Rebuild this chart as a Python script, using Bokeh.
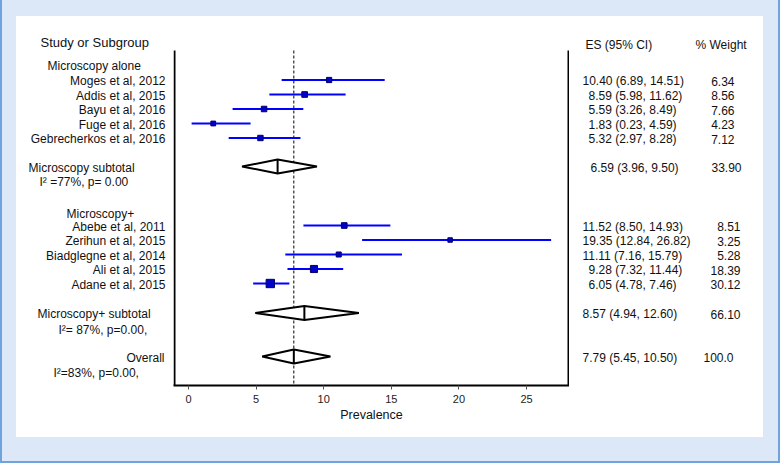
import math
from bokeh.plotting import figure
from bokeh.models import Range1d, FixedTicker, ColumnDataSource, Row, Column, Spacer
from bokeh.core.properties import value
from bokeh.embed import file_html
from bokeh.resources import INLINE

# ---------------- data ----------------
header_left = "Study or Subgroup"
header_es = "ES (95% CI)"
header_w = "% Weight"
group_names = ["Microscopy alone", "Microscopy+"]

studies_1 = ["Moges et al, 2012", "Addis et al, 2015", "Bayu et al, 2016",
             "Fuge et al, 2016", "Gebrecherkos et al, 2016"]
es_1 = [10.40, 8.59, 5.59, 1.83, 5.32]
lo_1 = [6.89, 5.98, 3.26, 0.23, 2.97]
hi_1 = [14.51, 11.62, 8.49, 4.59, 8.28]
w_1 = [6.34, 8.56, 7.66, 4.23, 7.12]

studies_2 = ["Abebe et al, 2011", "Zerihun et al, 2015", "Biadglegne et al, 2014",
             "Ali et al, 2015", "Adane et al, 2015"]
es_2 = [11.52, 19.35, 11.11, 9.28, 6.05]
lo_2 = [8.50, 12.84, 7.16, 7.32, 4.78]
hi_2 = [14.93, 26.82, 15.79, 11.44, 7.46]
w_2 = [8.51, 3.25, 5.28, 18.39, 30.12]

subtotal_names = ["Microscopy subtotal", "Microscopy+ subtotal"]
sub_es = [6.59, 8.57]
sub_lo = [3.96, 4.94]
sub_hi = [9.50, 12.60]
sub_w = [33.90, 66.10]
het_texts = ["I\u00b2 =77%, p= 0.00", "I\u00b2= 87%, p=0.00,"]

overall_name = "Overall"
overall_es = 7.79
overall_lo = 5.45
overall_hi = 10.50
overall_w = "100.0"
overall_het = "I\u00b2=83%, p=0.00,"

x_ticks = [0, 5, 10, 15, 20, 25]
x_label = "Prevalence"

# ---------------- layout (page pixel positions) ----------------
FONT = value("Liberation Sans")
WHITE_L, WHITE_T, WHITE_R, WHITE_B = 16, 16, 763, 437
BOX_L, BOX_R, BOX_TOP, BOTTOM = 173, 569, 50, 385
TOTAL_W, TOTAL_H = 780, 463
EDGE_W = 2
FIG_H = WHITE_B - WHITE_T
MB = FIG_H - (BOTTOM - WHITE_T)
X0, X1 = -1.11, 28.18
PX = (X1 - X0) / (BOX_R - BOX_L)
row_y_1 = [79.5, 94, 108.5, 123, 137.5]
row_y_2 = [225, 239.5, 254, 268.5, 283]
sub_y = [166, 312.5]
overall_y = 356
het_y = [181, 329]
overall_het_y = 372
group_y = [64, 212]
DY = 1.0  # text offset
BG = "#dce8f7"
EDGE = "#6fa3dc"
TXT = "#111111"


def base_fig(x0, x1, xr):
    f = figure(width=x1 - x0, height=FIG_H, x_range=xr,
               y_range=Range1d(BOTTOM, WHITE_T), y_axis_type=None,
               min_border_left=0, min_border_right=0, min_border_top=0,
               min_border_bottom=MB, toolbar_location=None, output_backend="svg",
               outline_line_color=None, background_fill_color="white",
               border_fill_color="white")
    f.grid.visible = False
    return f


def fmt(e, l, h):
    return f"{e:.2f} ({l:.2f}, {h:.2f})"


# ---------------- left text panel ----------------
left = base_fig(WHITE_L, BOX_L, Range1d(WHITE_L, BOX_L))
left.xaxis.visible = False

lt_right = ColumnDataSource(dict(
    x=[165] * 10 + [164],
    y=[y + DY for y in row_y_1 + row_y_2] + [overall_y + DY],
    t=studies_1 + studies_2 + [overall_name]))
left.text(x="x", y="y", text="t", source=lt_right, text_font=FONT,
          text_font_size="12px", text_align="right", text_baseline="middle",
          text_color=TXT)

lt_left = ColumnDataSource(dict(
    x=[47, 66, 28, 37, 39, 58, 53],
    y=[g + DY for g in group_y] + [s + DY for s in sub_y] + list(het_y) + [overall_het_y],
    t=group_names + subtotal_names + het_texts + [overall_het]))
left.text(x="x", y="y", text="t", source=lt_left, text_font=FONT,
          text_font_size="12px", text_align="left", text_baseline="middle",
          text_color=TXT)
left.text(x=[40], y=[42], text=[header_left], text_font=FONT,
          text_font_size="13px", text_align="left", text_baseline="middle",
          text_color=TXT)

# ---------------- center forest panel ----------------
center = base_fig(BOX_L, BOX_R, Range1d(X0, X1))
xa = center.xaxis[0]
xa.ticker = FixedTicker(ticks=x_ticks)
xa.axis_line_width = 2
xa.axis_line_color = "black"
xa.major_tick_line_color = "#555555"
xa.major_tick_out = 4
xa.major_tick_in = 0
xa.minor_tick_line_color = None
xa.major_label_text_font = "Liberation Sans"
xa.major_label_text_font_size = "11px"
xa.major_label_text_color = "#222222"
xa.major_label_standoff = 5
xa.axis_label = x_label
xa.axis_label_text_font = "Liberation Sans"
xa.axis_label_text_font_size = "12.5px"
xa.axis_label_text_font_style = "normal"
xa.axis_label_text_color = TXT
xa.axis_label_standoff = 2

# box sides (left and right), inside the frame edges
center.segment(x0=[X0 + PX, X1 - PX], x1=[X0 + PX, X1 - PX],
               y0=[BOX_TOP, BOX_TOP], y1=[BOTTOM, BOTTOM],
               line_color="black", line_width=2)

# overall reference line
center.segment(x0=[overall_es], x1=[overall_es], y0=[BOX_TOP], y1=[BOTTOM],
               line_color="black", line_width=1, line_dash="3 2")

st = ColumnDataSource(dict(
    y=row_y_1 + row_y_2, es=es_1 + es_2, lo=lo_1 + lo_2, hi=hi_1 + hi_2,
    size=[2.6 + 1.05 * math.sqrt(w) for w in w_1 + w_2]))
center.segment(x0="lo", x1="hi", y0="y", y1="y", source=st,
               line_color="#0000ff", line_width=2)
center.scatter(x="es", y="y", size="size", marker="square", source=st,
               fill_color="#0000cc", line_color="#000066", line_width=1)

H = 7
d_es = sub_es + [overall_es]
d_lo = sub_lo + [overall_lo]
d_hi = sub_hi + [overall_hi]
d_y = sub_y + [overall_y]
center.patches(xs=[[l, e, h, e] for l, e, h in zip(d_lo, d_es, d_hi)],
               ys=[[y, y - H, y, y + H] for y in d_y],
               fill_color="white", line_color="black", line_width=2)
center.segment(x0=d_es, x1=d_es, y0=[y - H for y in d_y], y1=[y + H for y in d_y],
               line_color="black", line_width=2)

# ---------------- right text panel ----------------
right = base_fig(BOX_R, WHITE_R, Range1d(BOX_R, WHITE_R))
right.xaxis.visible = False

es_texts = ([fmt(e, l, h) for e, l, h in zip(es_1, lo_1, hi_1)]
            + [fmt(sub_es[0], sub_lo[0], sub_hi[0])]
            + [fmt(e, l, h) for e, l, h in zip(es_2, lo_2, hi_2)]
            + [fmt(sub_es[1], sub_lo[1], sub_hi[1])]
            + [fmt(overall_es, overall_lo, overall_hi)])
es_x = [582, 588, 588, 588, 588, 590, 582, 582, 582, 588, 588, 582, 582]
all_y = row_y_1 + [sub_y[0]] + row_y_2 + [sub_y[1]] + [overall_y]
w_texts = ([f"{w:.2f}" for w in w_1] + [f"{sub_w[0]:.2f}"]
           + [f"{w:.2f}" for w in w_2] + [f"{sub_w[1]:.2f}"] + [overall_w])
w_x = [734] * 5 + [741] + [740] * 5 + [740] + [733]

right.text(x=es_x, y=[y + DY for y in all_y], text=es_texts, text_font=FONT,
           text_font_size="12px", text_align="left", text_baseline="middle",
           text_color=TXT)
right.text(x=w_x, y=[y + DY for y in all_y], text=w_texts, text_font=FONT,
           text_font_size="12px", text_align="right", text_baseline="middle",
           text_color=TXT)
right.text(x=[585, 695], y=[44, 44], text=[header_es, header_w], text_font=FONT,
           text_font_size="12px", text_align="left", text_baseline="middle",
           text_color=TXT)

# ---------------- framing: light-blue page with darker left/right/bottom edge ----------------
inner_w = TOTAL_W - 2 * EDGE_W
inner_h = TOTAL_H - EDGE_W
pad_l = WHITE_L - EDGE_W
pad_r = inner_w - pad_l - (WHITE_R - WHITE_L)
pad_b = inner_h - WHITE_B
white_row = Row(children=[left, center, right], spacing=0,
                styles={"background-color": "white"})
panel = Column(children=[
    Spacer(width=inner_w, height=WHITE_T),
    Row(children=[Spacer(width=pad_l, height=FIG_H, styles={"background-color": BG}),
                  white_row,
                  Spacer(width=pad_r, height=FIG_H, styles={"background-color": BG})],
        spacing=0),
    Spacer(width=inner_w, height=pad_b),
], spacing=0, styles={"background-color": BG})

layout = Column(children=[
    Row(children=[Spacer(width=EDGE_W, height=inner_h, styles={"background-color": EDGE}),
                  panel,
                  Spacer(width=EDGE_W, height=inner_h, styles={"background-color": EDGE})],
        spacing=0),
    Spacer(width=TOTAL_W, height=EDGE_W, styles={"background-color": EDGE}),
], spacing=0, styles={"background-color": BG})

open("out.html", "w").write(file_html(layout, INLINE))
